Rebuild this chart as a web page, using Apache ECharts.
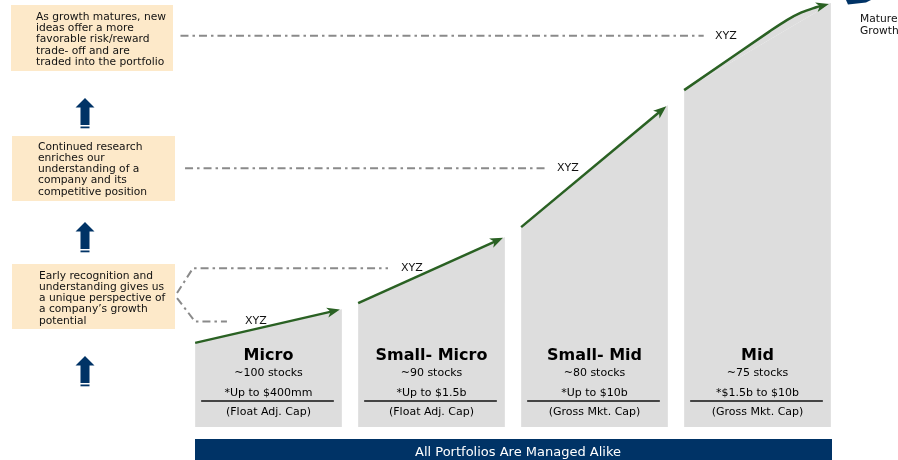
<!DOCTYPE html>
<html><head><meta charset="utf-8">
<script src="https://cdn.jsdelivr.net/npm/echarts/dist/echarts.min.js"></script>
<style>html,body{margin:0;padding:0;background:#fff}#c{width:898px;height:460px}</style>
</head><body><div id="c"></div><script>
// ---- data ----
const segments = ['Micro', 'Small- Micro', 'Small- Mid', 'Mid'];
const stockCounts = ['~100 stocks', '~90 stocks', '~80 stocks', '~75 stocks'];
const capRanges = ['*Up to $400mm', '*Up to $1.5b', '*Up to $10b', '*$1.5b to $10b'];
const capBasis = ['(Float Adj. Cap)', '(Float Adj. Cap)', '(Gross Mkt. Cap)', '(Gross Mkt. Cap)'];
// growth level along the top of each block: [fraction across block, level]
const profileMicro = [[0, 19.7], [1, 27.6]];
const profileSmallMicro = [[0, 29.0], [1, 44.5]];
const profileSmallMid = [[0, 46.8], [1, 75.4]];
const profileMid = [[0, 78.9], [0.58, 92.6], [0.7, 95.3], [0.8, 97.1], [0.9, 98.3], [1, 99.2]];
const topProfiles = [profileMicro, profileSmallMicro, profileSmallMid, profileMid];

const guideLabels = ['XYZ', 'XYZ', 'XYZ', 'XYZ'];
const guidePaths = [
  [[-0.04, 91.6], [3.17, 91.6]],
  [[-0.012, 60.6], [2.21, 60.6]],
  [[-0.061, 31.4], [0.037, 37.2], [1.233, 37.2]],
  [[-0.061, 30.2], [0.049, 24.7], [0.245, 24.7]]
];
const guideLabelX = [3.239, 2.27, 1.313, 0.356];

const leftNotes = [
  ['As growth matures, new', 'ideas offer a more', 'favorable risk/reward', 'trade- off and are', 'traded into the portfolio'],
  ['Continued research', 'enriches our', 'understanding of a', 'company and its', 'competitive position'],
  ['Early recognition and', 'understanding gives us', 'a unique perspective of', 'a company\u2019s growth', 'potential']
];
const bannerText = 'All Portfolios Are Managed Alike';
const matureText = ['Mature', 'Growth'];

// ---- styles ----
const FONT = 'DejaVu Sans';
const GREEN = '#2a6123';
const NAVY = '#003366';
const PEACH = '#fde9c9';
const BLOCK = '#dddddd';
const blockInset = 0.05;

function txt(text, x, y, size, opts) {
  opts = opts || {};
  return {type: 'text', style: {
    text: text, x: x, y: y,
    align: opts.align || 'center', verticalAlign: opts.valign || 'middle',
    fontFamily: FONT, fontSize: size, fontWeight: opts.bold ? 'bold' : 'normal',
    lineHeight: opts.lineHeight, fill: opts.fill || '#000'
  }};
}

function renderBlock(params, api) {
  const i = params.dataIndex;
  const x0 = i + blockInset, x1 = i + 1 - blockInset;
  const prof = topProfiles[i];
  const top = prof.map(p => api.coord([x0 + p[0] * (x1 - x0), p[1]]));
  const bl = api.coord([x0, 0]), br = api.coord([x1, 0]);
  const cx = (bl[0] + br[0]) / 2, by = bl[1];
  const curved = prof.length > 2;
  const line = top.map(p => p.slice());
  const last = line[line.length - 1], prev = line[line.length - 2];
  const dx = last[0] - prev[0], dy = last[1] - prev[1], len = Math.hypot(dx, dy);
  const ux = dx / len, uy = dy / len, nx = -uy, ny = ux;
  const tip = [last[0] - ux * 2, last[1] - uy * 2];
  const hl = 13, hw = 5;
  const base = [tip[0] - ux * hl, tip[1] - uy * hl];
  line[line.length - 1] = [tip[0] - ux * hl * 0.6, tip[1] - uy * hl * 0.6];
  const head = [tip, [base[0] + nx * hw, base[1] + ny * hw], [base[0] + ux * 3.5, base[1] + uy * 3.5], [base[0] - nx * hw, base[1] - ny * hw]];
  const topLast = top[top.length - 1];
  const fills = [
    {type: 'polygon', shape: {points: [bl, top[0], topLast, br]}, style: {fill: BLOCK}}
  ];
  if (curved) {
    fills.push({type: 'polyline', shape: {points: top, smooth: 0.35}, style: {stroke: BLOCK, lineWidth: 1, fill: BLOCK}});
  }
  return {type: 'group', children: fills.concat([
    {type: 'polyline', shape: {points: line, smooth: curved ? 0.35 : 0}, style: {stroke: GREEN, lineWidth: 2.5, fill: null}},
    {type: 'polygon', shape: {points: head}, style: {fill: GREEN}},
    txt(segments[i], cx, by - 71, 16, {bold: true}),
    txt(stockCounts[i], cx, by - 54, 11),
    txt(capRanges[i], cx, by - 34, 11),
    {type: 'line', shape: {x1: bl[0] + 6, y1: by - 26, x2: br[0] - 8, y2: by - 26}, style: {stroke: '#111', lineWidth: 1.5}},
    txt(capBasis[i], cx, by - 15, 11)
  ])};
}

function renderGuide(params, api) {
  const i = params.dataIndex;
  const path = guidePaths[i];
  const pts = path.map(p => api.coord(p));
  const lab = api.coord([guideLabelX[i], path[path.length - 1][1]]);
  return {type: 'group', children: [
    {type: 'polyline', shape: {points: pts}, style: {stroke: '#8a8a8a', lineWidth: 2, lineDash: [8, 4, 2.5, 4], fill: null}},
    txt(guideLabels[i], lab[0], lab[1], 11, {align: 'left', fill: '#111'})
  ]};
}

function upArrow(topY) {
  return [
    {type: 'polygon', shape: {points: [[85, topY], [94.5, topY + 9.5], [89.5, topY + 9.5], [89.5, topY + 27], [80.5, topY + 27], [80.5, topY + 9.5], [75.5, topY + 9.5]]}, style: {fill: NAVY}},
    {type: 'rect', shape: {x: 80.5, y: topY + 28.5, width: 9, height: 1.8}, style: {fill: NAVY}}
  ];
}

const noteBoxes = [
  {x: 11, y: 5, w: 162, h: 66, tx: 36, ty: 11.5},
  {x: 12, y: 136, w: 163, h: 65, tx: 38, ty: 141.2},
  {x: 12, y: 264, w: 163, h: 65, tx: 39, ty: 270.2}
];
const graphics = [];
noteBoxes.forEach((b, k) => {
  graphics.push({type: 'rect', shape: {x: b.x, y: b.y, width: b.w, height: b.h}, style: {fill: PEACH}});
  graphics.push(txt(leftNotes[k].join('\n'), b.tx, b.ty, 10.7, {align: 'left', valign: 'top', lineHeight: 11.25, fill: '#111'}));
});
[98, 222, 356].forEach(y => upArrow(y).forEach(g => graphics.push(g)));
graphics.push({type: 'rect', shape: {x: 195, y: 439, width: 637, height: 25}, style: {fill: NAVY}});
graphics.push(txt(bannerText, 518, 452.5, 13, {fill: '#ffffff'}));
graphics.push({type: 'polygon', shape: {points: [[846, 0], [871, 0], [866, 2.5], [848, 4.5]]}, style: {fill: NAVY}});
graphics.push(txt(matureText.join('\n'), 860, 13.5, 10.7, {align: 'left', valign: 'top', lineHeight: 11.5, fill: '#111'}));

const chart = echarts.init(document.getElementById('c'), null, {renderer: 'canvas'});
chart.setOption({
  animation: false,
  backgroundColor: '#ffffff',
  grid: {left: 187, right: 59, top: 0, bottom: 33},
  xAxis: {type: 'value', min: 0, max: 4, show: false},
  yAxis: {type: 'value', min: 0, max: 100, show: false},
  graphic: graphics,
  series: [
    {type: 'custom', z: 2, renderItem: renderBlock, data: segments.map((s, i) => [i + 0.5, topProfiles[i][0][1]]), encode: {x: 0, y: 1}, clip: false},
    {type: 'custom', z: 3, renderItem: renderGuide, data: guidePaths.map((p, i) => [p[p.length - 1][0], p[p.length - 1][1]]), encode: {x: 0, y: 1}, clip: false}
  ]
});
</script></body></html>
